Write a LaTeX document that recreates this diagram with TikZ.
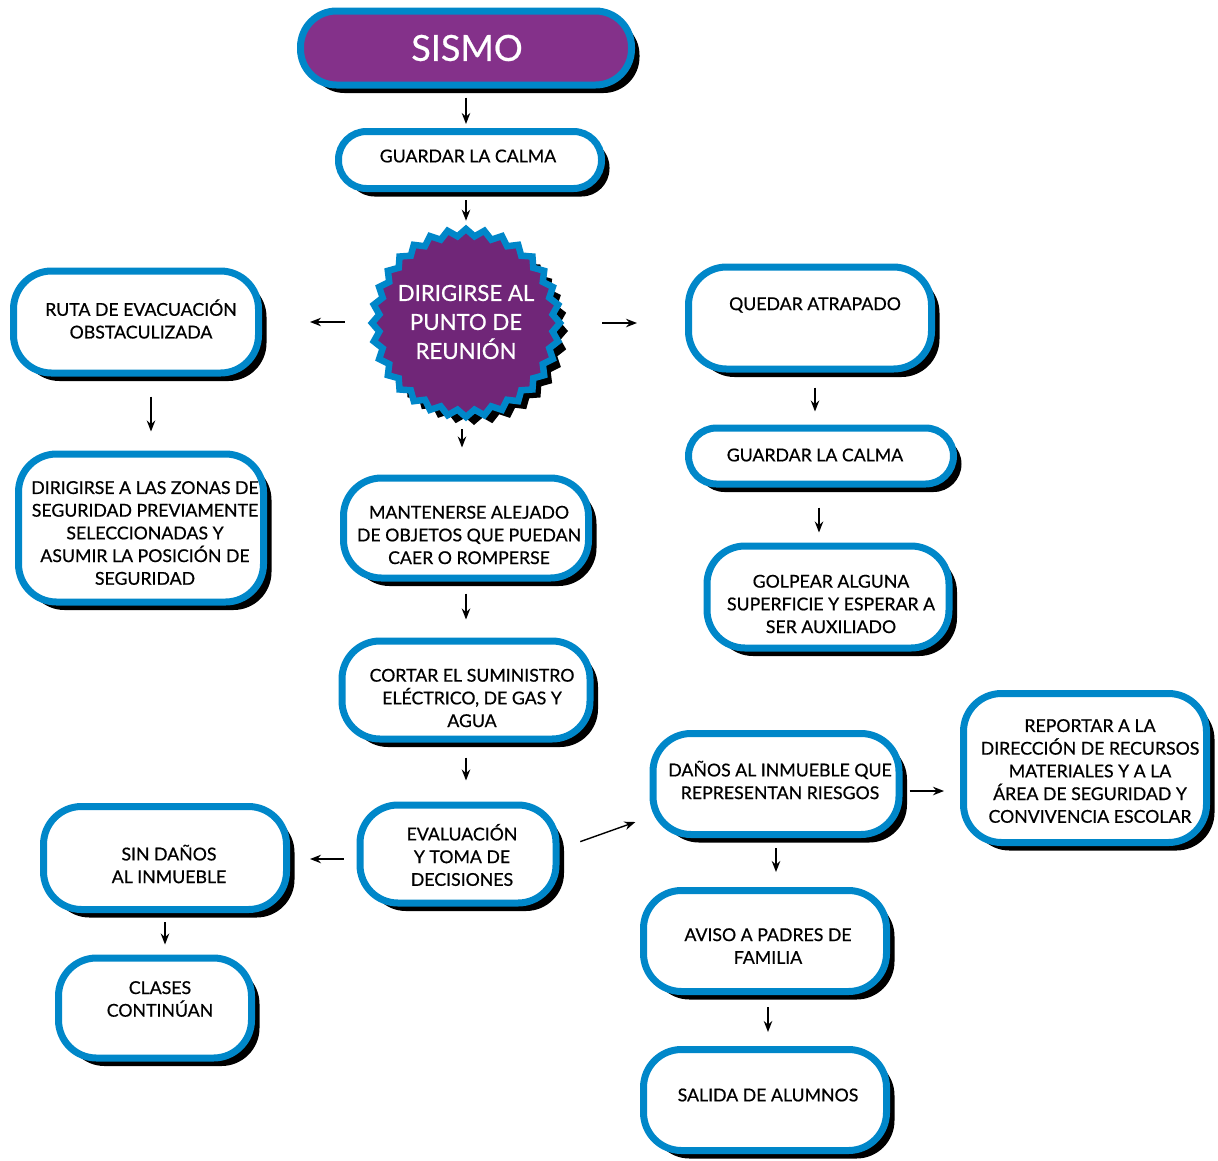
\documentclass[tikz,border=0pt]{standalone}
\usepackage{fontspec}
\setmainfont{Lato}[FakeBold=0.6]
\usetikzlibrary{arrows.meta,shapes.geometric,shadows}
\definecolor{borde}{RGB}{0,135,201}
\definecolor{morado}{RGB}{132,49,138}
\definecolor{moradoest}{RGB}{112,38,120}
\tikzset{
	sombra/.style={drop shadow={shadow xshift=8pt,shadow yshift=-8pt,fill=black,opacity=1}},
	caja/.style={draw=borde,line width=7pt,fill=white,rounded corners=38pt,inner sep=0pt,sombra},
	inicio/.style={caja,fill=morado,rounded corners=36pt},
	estrella/.style={star,star points=32,star point ratio=1.08,minimum size=188pt,inner sep=0pt,fill=moradoest,draw=borde,line width=6.5pt,sombra},
	texto/.style={align=center,font=\fontsize{17.7}{22.7}\selectfont},
	textoblanco/.style={texto,text=white},
	flecha/.style={-{Stealth[length=11pt,width=8.5pt]},line width=1.4pt}
}
\begin{document}
\begin{tikzpicture}[x=1pt,y=-1pt]
	\useasboundingbox (0,0) rectangle (1218,1160);
	\node[inicio,minimum width=331pt,minimum height=74pt] (sismo) at (466,48) {};
	\node[textoblanco,font=\fontsize{36}{40}\selectfont] (sismotexto) at (467,48) {SISMO};
	\node[caja,minimum width=263pt,minimum height=57pt,rounded corners=28pt] (calma1) at (470,160) {};
	\node[texto] (calma1texto) at (468,156) {GUARDAR LA CALMA};
	\node[estrella] (punto) at (466,323) {};
	\node[textoblanco,font=\fontsize{22.2}{29}\selectfont] (puntotexto) at (466,322) {DIRIGIRSE AL\\PUNTO DE\\REUNIÓN};
	\node[caja,minimum width=245pt,minimum height=102pt] (ruta) at (136,322) {};
	\node[texto] (rutatexto) at (141,319) {RUTA DE EVACUACIÓN\\OBSTACULIZADA};
	\node[caja,minimum width=245pt,minimum height=148pt] (zonas) at (141,528) {};
	\node[texto] (zonastexto) at (145,533) {DIRIGIRSE A LAS ZONAS DE\\SEGURIDAD PREVIAMENTE\\SELECCIONADAS Y\\ASUMIR LA POSICIÓN DE\\SEGURIDAD};
	\node[caja,minimum width=243pt,minimum height=102pt] (quedar) at (810,318) {};
	\node[texto] (quedartexto) at (815,305) {QUEDAR ATRAPADO};
	\node[caja,minimum width=265pt,minimum height=56pt,rounded corners=28pt] (calma2) at (821,456) {};
	\node[texto] (calma2texto) at (815,455) {GUARDAR LA CALMA};
	\node[caja,minimum width=242pt,minimum height=102pt] (golpear) at (828,597) {};
	\node[texto] (golpeartexto) at (831,604) {GOLPEAR ALGUNA\\SUPERFICIE Y ESPERAR A\\SER AUXILIADO};
	\node[caja,minimum width=245pt,minimum height=100pt] (mant) at (466,528) {};
	\node[texto] (manttexto) at (469,535) {MANTENERSE ALEJADO\\DE OBJETOS QUE PUEDAN\\CAER O ROMPERSE};
	\node[caja,minimum width=248pt,minimum height=98pt] (cortar) at (466,690) {};
	\node[texto] (cortartexto) at (472,698) {CORTAR EL SUMINISTRO\\ELÉCTRICO, DE GAS Y\\AGUA};
	\node[caja,minimum width=196pt,minimum height=98pt] (eval) at (458,854) {};
	\node[texto] (evaltexto) at (462,855) {EVALUACIÓN\\Y TOMA DE\\DECISIONES};
	\node[caja,minimum width=243pt,minimum height=103pt] (sin) at (165,858) {};
	\node[texto] (sintexto) at (169,864) {SIN DAÑOS\\AL INMUEBLE};
	\node[caja,minimum width=193pt,minimum height=100pt] (clases) at (155,1008) {};
	\node[texto] (clasestexto) at (160,999) {CLASES\\CONTINÚAN};
	\node[caja,minimum width=246pt,minimum height=101pt] (danos) at (776,784) {};
	\node[texto] (danostexto) at (780,780) {DAÑOS AL INMUEBLE QUE\\REPRESENTAN RIESGOS};
	\node[caja,minimum width=243pt,minimum height=149pt] (reportar) at (1085,768) {};
	\node[texto] (reportartexto) at (1090,771) {REPORTAR A LA\\DIRECCIÓN DE RECURSOS\\MATERIALES Y A LA\\ÁREA DE SEGURIDAD Y\\CONVIVENCIA ESCOLAR};
	\node[caja,minimum width=243pt,minimum height=101pt] (aviso) at (765,941) {};
	\node[texto] (avisotexto) at (768,946) {AVISO A PADRES DE\\FAMILIA};
	\node[caja,minimum width=243pt,minimum height=101pt] (salida) at (765,1100) {};
	\node[texto] (salidatexto) at (768,1095) {SALIDA DE ALUMNOS};
	\draw[flecha,shorten <=9pt,shorten >=4pt] (sismo.south) -- (sismo.south |- calma1.north);
	\draw[flecha,shorten <=8pt,shorten >=4pt] (punto.north |- calma1.south) -- (punto.north);
	\draw[flecha,shorten <=23pt,shorten >=48pt] (punto.west |- ruta.east) -- (ruta.east);
	\draw[flecha,shorten <=38pt,shorten >=48pt] (punto.east) -- (punto.east -| quedar.west);
	\draw[flecha,shorten <=8pt,shorten >=27pt] ([xshift=-4pt]punto.south) -- ([xshift=-4pt]punto.south |- mant.north);
	\draw[flecha,shorten <=20pt,shorten >=19pt] ([xshift=15pt]ruta.south) -- ([xshift=15pt]ruta.south |- zonas.north);
	\draw[flecha,shorten <=15pt,shorten >=13pt] ([xshift=5pt]quedar.south) -- ([xshift=5pt]quedar.south |- calma2.north);
	\draw[flecha,shorten <=20pt,shorten >=10pt] ([xshift=-2pt]calma2.south) -- ([xshift=-2pt]calma2.south |- golpear.north);
	\draw[flecha,shorten <=12pt,shorten >=18pt] (mant.south) -- (mant.south |- cortar.north);
	\draw[flecha,shorten <=15pt,shorten >=21pt] (cortar.south) -- (cortar.south |- eval.north);
	\draw[flecha,shorten <=13pt,shorten >=20pt] ([yshift=-5pt]eval.west) -- ([yshift=-5pt]eval.west -| sin.east);
	\draw[flecha,shorten <=9pt,shorten >=10pt] (sin.south) -- (sin.south |- clases.north);
	\draw[flecha,shorten <=22pt,shorten >=15pt] ([yshift=5pt]eval.east) -- ([yshift=-33pt]danos.west);
	\draw[flecha,shorten <=7pt,shorten >=16pt] ([yshift=-7pt]danos.east) -- ([yshift=-7pt]danos.east -| reportar.west);
	\draw[flecha,shorten <=10pt,shorten >=15pt] (danos.south) -- (danos.south |- aviso.north);
	\draw[flecha,shorten <=12pt,shorten >=14pt] ([xshift=3pt]aviso.south) -- ([xshift=3pt]aviso.south |- salida.north);
\end{tikzpicture}
\end{document}
